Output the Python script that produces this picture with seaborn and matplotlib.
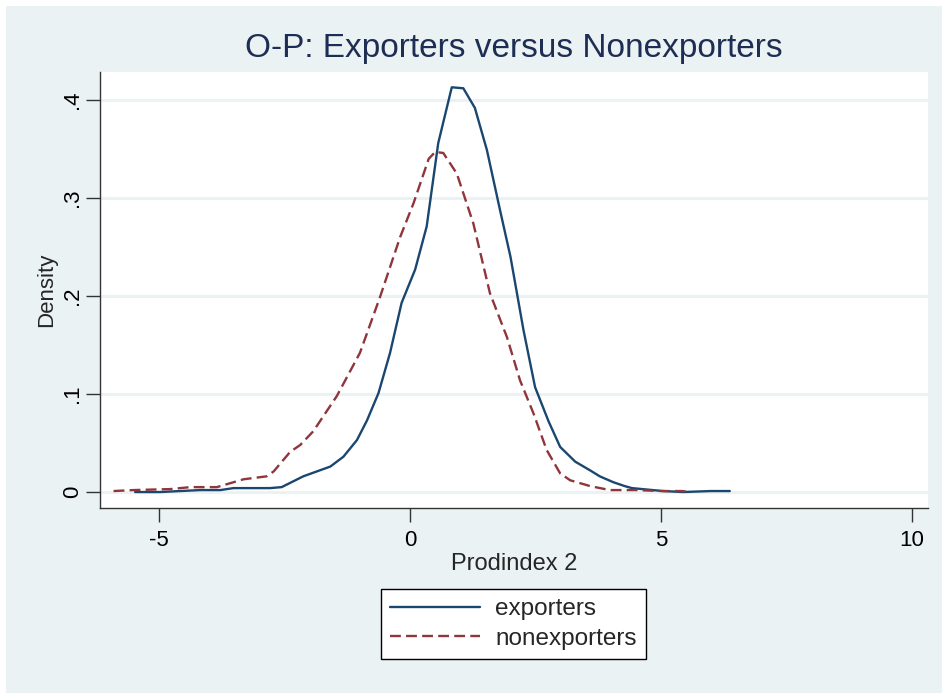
import numpy as np
import pandas as pd
import matplotlib
matplotlib.use('Agg')
import matplotlib.pyplot as plt
from matplotlib.patches import Rectangle
import seaborn as sns

# ── data (kernel density estimates) ───────────────────────────────────────
exp_x = [-5.48, -4.98, -4.18, -3.78, -3.52, -2.79, -2.56, -2.13, -1.59, -1.33,
         -1.06, -0.86, -0.63, -0.40, -0.17, 0.10, 0.33, 0.56, 0.83, 1.06,
         1.29, 1.53, 1.79, 2.00, 2.26, 2.49, 2.76, 2.99, 3.29, 3.59,
         3.78, 4.05, 4.28, 4.42, 5.04, 5.44, 6.00, 6.37]
exp_y = [0.000, 0.000, 0.002, 0.002, 0.004, 0.004, 0.005, 0.016, 0.026, 0.036,
         0.053, 0.073, 0.101, 0.142, 0.193, 0.227, 0.271, 0.356, 0.413, 0.412,
         0.392, 0.349, 0.288, 0.240, 0.165, 0.107, 0.072, 0.046, 0.031, 0.022,
         0.016, 0.010, 0.006, 0.004, 0.001, 0.000, 0.001, 0.001]

nonexp_x = [-5.91, -5.51, -4.78, -4.38, -3.85, -3.32, -2.86, -2.72, -2.39, -2.19,
            -1.93, -1.46, -1.00, -0.60, -0.20, 0.07, 0.37, 0.50, 0.66, 0.93,
            1.26, 1.59, 1.93, 2.19, 2.46, 2.72, 2.99, 3.19, 3.59, 3.98,
            4.50, 5.00, 5.41, 5.60]
nonexp_y = [0.001, 0.002, 0.003, 0.005, 0.005, 0.013, 0.016, 0.021, 0.041, 0.048,
            0.062, 0.098, 0.142, 0.199, 0.260, 0.295, 0.340, 0.347, 0.346, 0.325,
            0.274, 0.203, 0.158, 0.114, 0.080, 0.043, 0.019, 0.012, 0.006, 0.002,
            0.002, 0.001, 0.001, 0.000]

group_names = ["exporters", "nonexporters"]
xtick_vals = [-5, 0, 5, 10]
xtick_labels = ["-5", "0", "5", "10"]
ytick_vals = [0, 0.1, 0.2, 0.3, 0.4]
ytick_labels = ["0", ".1", ".2", ".3", ".4"]

df = pd.concat([
    pd.DataFrame({"x": exp_x, "density": exp_y, "group": group_names[0]}),
    pd.DataFrame({"x": nonexp_x, "density": nonexp_y, "group": group_names[1]}),
], ignore_index=True)

# ── style ─────────────────────────────────────────────────────────────────
BG = "#EAF2F3"
sns.set_style("white")
plt.rcParams['font.family'] = ['Liberation Sans', 'DejaVu Sans']

fig = plt.figure(figsize=(9.42, 6.93), dpi=100, facecolor="white")
fig.patches.append(Rectangle((6 / 942, 0), 1, 1 - 6 / 693, transform=fig.transFigure,
                             facecolor=BG, edgecolor="none", zorder=-10))
ax = fig.add_axes([100 / 942, 1 - 508 / 693, 828 / 942, 436 / 693])
ax.set_facecolor("white")

sns.lineplot(
    data=df, x="x", y="density", hue="group", style="group",
    palette={"exporters": "#1a476f", "nonexporters": "#90353b"},
    dashes={"exporters": "", "nonexporters": (4.6, 2.2)},
    linewidth=1.7, sort=False, ax=ax,
)

ax.set_xlim(-6.18, 10.32)
ax.set_ylim(-0.0163, 0.4286)
ax.set_xticks(xtick_vals)
ax.set_xticklabels(xtick_labels, fontsize=16)
ax.set_yticks(ytick_vals)
ax.set_yticklabels(ytick_labels, fontsize=16, rotation=90, va="center")

ax.yaxis.grid(True, color=BG, linewidth=2.2, zorder=0)
ax.xaxis.grid(False)
ax.set_axisbelow(True)
for s in ["top", "right"]:
    ax.spines[s].set_visible(False)
for s in ["left", "bottom"]:
    ax.spines[s].set_color("#333333")
    ax.spines[s].set_linewidth(1.0)
ax.tick_params(axis="both", direction="out", length=10, width=1.0,
               color="#333333", labelcolor="black", left=True, bottom=True)
ax.tick_params(axis="x", pad=6)
ax.tick_params(axis="y", pad=2)

ax.set_xlabel("Prodindex 2", fontsize=17, labelpad=1)
ax.set_ylabel("Density", fontsize=16, labelpad=3.5)

fig.text(0.545, 1 - 48 / 693, "O-P: Exporters versus Nonexporters",
         fontsize=24, color="#1e2d53", ha="center", va="center")

handles, labels = ax.get_legend_handles_labels()
ax.legend(handles, labels, loc="center", bbox_to_anchor=(513.5 / 942, 1 - 624 / 693),
          bbox_transform=fig.transFigure, fontsize=17.5, frameon=True, fancybox=False,
          edgecolor="black", facecolor="white", framealpha=1, handlelength=3.7,
          borderpad=0.4, labelspacing=0.3, handletextpad=0.6, borderaxespad=0)
ax.get_legend().get_frame().set_linewidth(1.0)

fig.savefig("out.png", dpi=100, facecolor=fig.get_facecolor())
